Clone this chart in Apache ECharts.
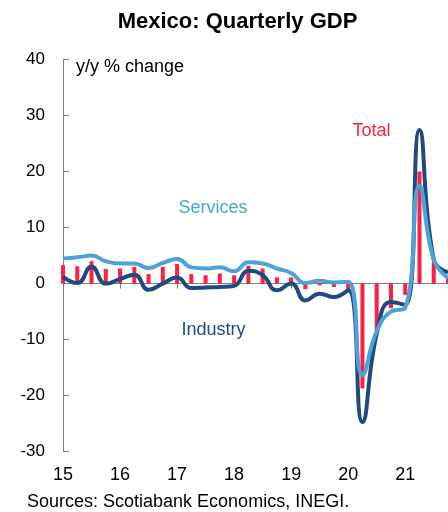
<!DOCTYPE html>
<html>
<head>
<meta charset="utf-8">
<script src="https://cdn.jsdelivr.net/npm/echarts@6/dist/echarts.min.js"></script>
<style>html,body{margin:0;padding:0;background:#fff}#c{width:448px;height:512px}</style>
</head>
<body>
<div id="c"></div>
<script>
const quarters = ['15Q1','15Q2','15Q3','15Q4','16Q1','16Q2','16Q3','16Q4','17Q1','17Q2','17Q3','17Q4','18Q1','18Q2','18Q3','18Q4','19Q1','19Q2','19Q3','19Q4','20Q1','20Q2','20Q3','20Q4','21Q1','21Q2','21Q3','21Q4'];
const yearLabels = ['15','16','17','18','19','20','21'];
const total =    [3.3, 3.1, 4.0, 2.6, 2.7, 3.0, 1.7, 3.0, 3.5, 1.7, 1.5, 1.8, 1.5, 3.2, 2.7, 1.1, 1.1, -1.0, -0.3, -0.6, -1.2, -18.7, -8.5, -4.4, -2.0, 20.0, 3.8, 1.1];
const services = [4.5, 4.7, 5.0, 4.0, 3.6, 3.6, 2.8, 3.7, 4.4, 2.9, 2.7, 2.9, 2.2, 3.8, 3.6, 2.7, 1.9, 0.1, 0.5, 0.2, 0.3, -16.3, -8.5, -5.0, -4.3, 17.4, 4.3, 1.0];
const industry = [1.2, 0.1, 3.0, 0.0, 0.8, 1.6, -1.1, 0.0, 1.1, -0.8, -0.7, -0.6, -0.4, 2.3, 1.5, -1.2, 0.0, -3.0, -1.8, -2.4, -1.2, -24.7, -9.0, -3.3, -3.8, 27.4, 4.3, 2.0];

const FONT = '"Liberation Sans", Arial, sans-serif';
const RED = '#FF1F3F', LIGHT = '#4BA3DA', DARK = '#1E4A7F', GRAY = '#808080';

const chart = echarts.init(document.getElementById('c'), null, {renderer: 'canvas'});
chart.setOption({
  animation: false,
  grid: {left: 63, top: 59.5, width: 387, height: 392.2, containLabel: false},
  xAxis: [
    {
      type: 'category', data: quarters, boundaryGap: false,
      axisLine: {onZero: true, lineStyle: {color: GRAY, width: 1}},
      axisTick: {show: true, interval: (i) => i % 4 === 0, length: 5, lineStyle: {color: GRAY}},
      axisLabel: {show: false}, splitLine: {show: false}
    },
    {
      type: 'category', data: quarters, boundaryGap: false, position: 'bottom',
      axisLine: {show: false, onZero: false}, axisTick: {show: false}, splitLine: {show: false},
      axisLabel: {
        show: true, interval: (i) => i % 4 === 0, margin: 14,
        formatter: (v, i) => yearLabels[Math.floor(i / 4)],
        fontFamily: FONT, fontSize: 18, color: '#000'
      }
    }
  ],
  yAxis: {
    type: 'value', min: -30, max: 40, interval: 10,
    axisLine: {show: true, lineStyle: {color: GRAY, width: 1}},
    axisTick: {show: true, inside: true, length: 6, lineStyle: {color: GRAY}},
    splitLine: {show: false},
    axisLabel: {fontFamily: FONT, fontSize: 17, color: '#000', margin: 18}
  },
  series: [
    {name: 'Total', type: 'bar', data: total, barWidth: 4, itemStyle: {color: RED}, z: 1},
    {name: 'Industry', type: 'line', data: industry, smooth: 0.5, symbol: 'none',
     lineStyle: {color: DARK, width: 4}, z: 2},
    {name: 'Services', type: 'line', data: services, smooth: 0.5, symbol: 'none',
     lineStyle: {color: LIGHT, width: 4}, z: 3}
  ],
  graphic: [
    {type: 'text', x: 237.5, y: 22, style: {text: 'Mexico: Quarterly GDP', font: 'bold 22px ' + FONT, fill: '#000', textAlign: 'center', textVerticalAlign: 'middle'}},
    {type: 'text', x: 76, y: 67, style: {text: 'y/y % change', font: '18px ' + FONT, fill: '#000', textAlign: 'left', textVerticalAlign: 'middle'}},
    {type: 'text', x: 213, y: 208, style: {text: 'Services', font: '18px ' + FONT, fill: LIGHT, textAlign: 'center', textVerticalAlign: 'middle'}},
    {type: 'text', x: 213.5, y: 330, style: {text: 'Industry', font: '18px ' + FONT, fill: DARK, textAlign: 'center', textVerticalAlign: 'middle'}},
    {type: 'text', x: 371.5, y: 131.5, style: {text: 'Total', font: '18px ' + FONT, fill: RED, textAlign: 'center', textVerticalAlign: 'middle'}},
    {type: 'text', x: 27, y: 502, style: {text: 'Sources: Scotiabank Economics, INEGI.', font: '18px ' + FONT, fill: '#000', textAlign: 'left', textVerticalAlign: 'middle'}}
  ]
});
</script>
</body>
</html>
